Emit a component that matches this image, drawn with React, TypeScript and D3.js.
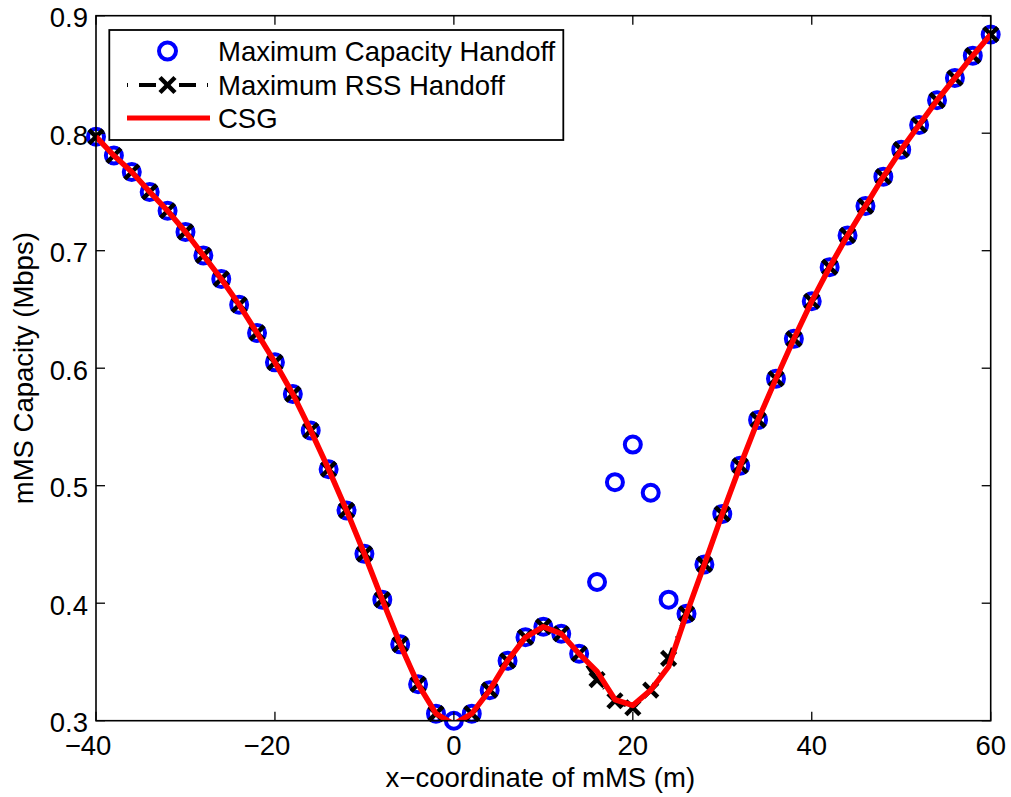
import React from 'react';
import * as d3 from 'd3';

const xPositions = [-40, -38, -36, -34, -32, -30, -28, -26, -24, -22, -20, -18, -16, -14, -12, -10, -8, -6, -4, -2, 0, 2, 4, 6, 8, 10, 12, 14, 16, 18, 20, 22, 24, 26, 28, 30, 32, 34, 36, 38, 40, 42, 44, 46, 48, 50, 52, 54, 56, 58, 60];

const capacityHandoff = [0.797, 0.781, 0.767, 0.750, 0.734, 0.716, 0.696, 0.676, 0.654, 0.630, 0.605, 0.578, 0.547, 0.514, 0.479, 0.442, 0.403, 0.365, 0.331, 0.306, 0.300, 0.306, 0.326, 0.351, 0.371, 0.380, 0.374, 0.357, 0.418, 0.503, 0.535, 0.494, 0.403, 0.391, 0.433, 0.476, 0.517, 0.556, 0.591, 0.625, 0.657, 0.686, 0.713, 0.738, 0.763, 0.786, 0.807, 0.828, 0.847, 0.866, 0.884];

const rssHandoff = [0.797, 0.781, 0.767, 0.750, 0.734, 0.716, 0.696, 0.676, 0.654, 0.630, 0.605, 0.578, 0.547, 0.514, 0.479, 0.442, 0.403, 0.365, 0.331, 0.306, 0.297, 0.306, 0.326, 0.351, 0.371, 0.380, 0.374, 0.357, 0.335, 0.317, 0.311, 0.326, 0.353, 0.391, 0.433, 0.476, 0.517, 0.556, 0.591, 0.625, 0.657, 0.686, 0.713, 0.738, 0.763, 0.786, 0.807, 0.828, 0.847, 0.866, 0.884];

const csg = [0.797, 0.781, 0.767, 0.750, 0.734, 0.716, 0.696, 0.676, 0.654, 0.630, 0.605, 0.578, 0.547, 0.514, 0.479, 0.442, 0.403, 0.365, 0.331, 0.306, 0.297, 0.306, 0.326, 0.351, 0.371, 0.380, 0.374, 0.357, 0.342, 0.318, 0.313, 0.326, 0.346, 0.391, 0.433, 0.476, 0.517, 0.556, 0.591, 0.625, 0.657, 0.686, 0.713, 0.738, 0.763, 0.786, 0.807, 0.828, 0.847, 0.866, 0.884];

const xTicks = [-40, -20, 0, 20, 40, 60];
const yTicks = [0.3, 0.4, 0.5, 0.6, 0.7, 0.8, 0.9];
const legendLabels = ['Maximum Capacity Handoff', 'Maximum RSS Handoff', 'CSG'];
const xLabel = 'x\u2212coordinate of mMS (m)';
const yLabel = 'mMS Capacity (Mbps)';

const FONT = "'Liberation Sans', Arial, Helvetica, sans-serif";
const BLUE = '#0000ff';
const RED = '#ff0000';
const FS = 27.5;

function XMark({ cx, cy, s }: { cx: number; cy: number; s: number }) {
  return (
    <g stroke="#000" strokeWidth={4.5}>
      <line x1={cx - s} y1={cy - s} x2={cx + s} y2={cy + s} />
      <line x1={cx - s} y1={cy + s} x2={cx + s} y2={cy - s} />
    </g>
  );
}

export default function App() {
  const W = 1011;
  const H = 797;
  const left = 96, right = 990.7, top = 15.7, bottom = 720.7;
  const x = d3.scaleLinear().domain([-40, 60]).range([left, right]);
  const y = d3.scaleLinear().domain([0.3, 0.9]).range([bottom, top]);
  const line = d3.line<number>().x((_, i) => x(xPositions[i])).y((d) => y(d));
  const inside = (v: number) => v >= 0.3 - 1e-9 && v <= 0.9 + 1e-9;
  const tickLen = 9;
  const fmtY = d3.format('.1f');

  const legendX0 = 109.3, legendY0 = 30, legendX1 = 563.3, legendY1 = 140;
  const rows = [51, 85, 118];
  const sampleA = 127, sampleB = 208, sampleMid = 167.5, textX = 218;

  return (
    <svg width={W} height={H} style={{ position: 'absolute', left: 0, top: 0, background: '#fff' }} fontFamily={FONT}>
      <rect x={0} y={0} width={W} height={H} fill="#fff" />
      <defs>
        <clipPath id="plotClip">
          <rect x={left} y={top} width={right - left} height={bottom - top} />
        </clipPath>
      </defs>

      {/* capacity circles */}
      <g fill="none" stroke={BLUE} strokeWidth={4}>
        {capacityHandoff.map((v, i) =>
          inside(v) ? <circle key={i} cx={x(xPositions[i])} cy={y(v)} r={8} /> : null
        )}
      </g>

      {/* RSS dash-dot line and x markers */}
      <path d={line(rssHandoff) || ''} fill="none" stroke="#000" strokeWidth={4} strokeDasharray="1 11 17 11" clipPath="url(#plotClip)" />
      {rssHandoff.map((v, i) =>
        inside(v) ? <XMark key={i} cx={x(xPositions[i])} cy={y(v)} s={7} /> : null
      )}

      {/* CSG red line */}
      <path d={line(csg) || ''} fill="none" stroke={RED} strokeWidth={5.5} strokeLinejoin="round" clipPath="url(#plotClip)" />

      {/* axes box */}
      <rect x={left} y={top} width={right - left} height={bottom - top} fill="none" stroke="#000" strokeWidth={1.6} />

      {/* ticks */}
      <g stroke="#000" strokeWidth={1.3}>
        {xTicks.map((t) => (
          <g key={'xt' + t}>
            <line x1={x(t)} x2={x(t)} y1={bottom} y2={bottom - tickLen} />
            <line x1={x(t)} x2={x(t)} y1={top} y2={top + tickLen} />
          </g>
        ))}
        {yTicks.map((t) => (
          <g key={'yt' + t}>
            <line x1={left} x2={left + tickLen} y1={y(t)} y2={y(t)} />
            <line x1={right} x2={right - tickLen} y1={y(t)} y2={y(t)} />
          </g>
        ))}
      </g>

      {/* tick labels */}
      <g fontSize={FS} fill="#000">
        {xTicks.map((t) => (
          <text key={'xl' + t} x={x(t) + (t < 0 ? -8 : 0)} y={755} textAnchor="middle">
            {t < 0 ? '\u2212' + Math.abs(t) : String(t)}
          </text>
        ))}
        {yTicks.map((t) => (
          <text key={'yl' + t} x={88} y={y(t) + 11.5} textAnchor="end">
            {fmtY(t)}
          </text>
        ))}
      </g>

      {/* axis labels */}
      <text x={(left + right) / 2 - 3} y={787} textAnchor="middle" fontSize={FS} fill="#000">{xLabel}</text>
      <text transform={`translate(32.7, ${(top + bottom) / 2}) rotate(-90)`} textAnchor="middle" fontSize={FS} fill="#000">{yLabel}</text>

      {/* legend */}
      <rect x={legendX0} y={legendY0} width={legendX1 - legendX0} height={legendY1 - legendY0} fill="#fff" stroke="#000" strokeWidth={1.8} />
      <circle cx={sampleMid} cy={rows[0]} r={8.5} fill="none" stroke={BLUE} strokeWidth={4} />
      <line x1={sampleA} x2={sampleB} y1={rows[1]} y2={rows[1]} stroke="#000" strokeWidth={4} strokeDasharray="1 11 17 11" />
      <XMark cx={sampleMid} cy={rows[1]} s={7.5} />
      <line x1={sampleA} x2={sampleB + 2} y1={rows[2]} y2={rows[2]} stroke={RED} strokeWidth={5} />
      <g fontSize={FS} fill="#000">
        {legendLabels.map((l, i) => (
          <text key={l} x={textX} y={rows[i] + 10}>{l}</text>
        ))}
      </g>
    </svg>
  );
}
